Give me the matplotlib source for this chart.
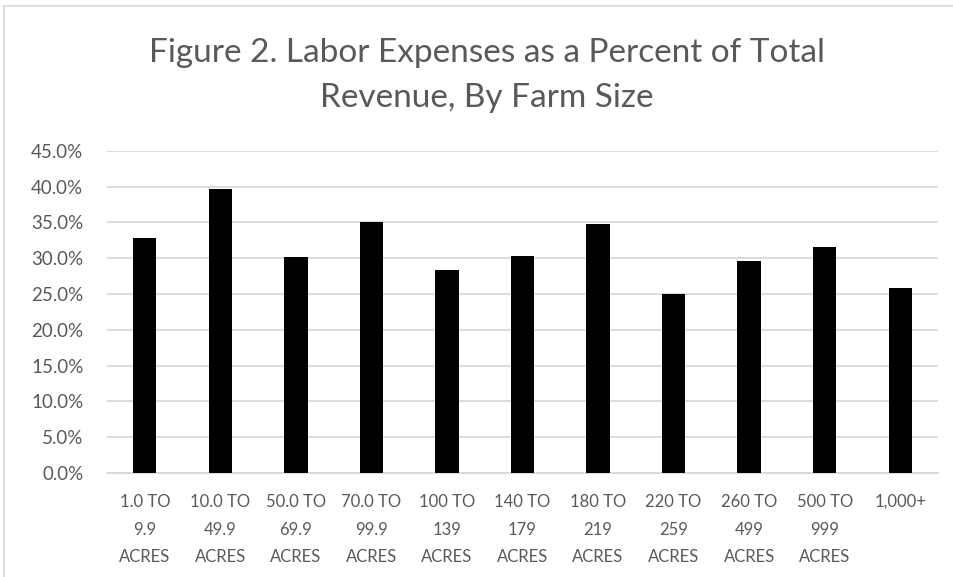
import matplotlib
matplotlib.use("Agg")
import matplotlib.pyplot as plt
from matplotlib.ticker import FuncFormatter, MultipleLocator
from matplotlib.patches import Rectangle

categories = ["1.0 TO\n9.9\nACRES", "10.0 TO\n49.9\nACRES", "50.0 TO\n69.9\nACRES",
              "70.0 TO\n99.9\nACRES", "100 TO\n139\nACRES", "140 TO\n179\nACRES",
              "180 TO\n219\nACRES", "220 TO\n259\nACRES", "260 TO\n499\nACRES",
              "500 TO\n999\nACRES", "1,000+"]
values = [32.8, 39.6, 30.2, 35.0, 28.3, 30.3, 34.7, 25.0, 29.6, 31.5, 25.8]
title_lines = ["Figure 2. Labor Expenses as a Percent of Total", "Revenue, By Farm Size"]

plt.rcParams['font.family'] = ['Lato', 'DejaVu Sans']
txt = '#595959'
grid = '#d9d9d9'

W, H = 954, 577
fig = plt.figure(figsize=(W/100, H/100), dpi=100)
ax = fig.add_axes([107/W, 1-473/H, (938-107)/W, (473-150.7)/H])

x = list(range(len(categories)))
ax.bar(x, values, width=0.31, color='black', zorder=3)
ax.set_xlim(-0.5, len(categories) - 0.5)
ax.set_ylim(0, 45)
ax.yaxis.set_major_locator(MultipleLocator(5))
ax.yaxis.set_major_formatter(FuncFormatter(lambda v, p: f"{v:.1f}%"))
ax.set_xticks(x)
ax.set_xticklabels(categories, fontsize=12, color=txt, linespacing=1.9, va='top')
ax.tick_params(axis='x', length=0, pad=15)
ax.tick_params(axis='y', length=0, pad=17, labelsize=13.5, labelcolor=txt)
ax.grid(axis='y', color=grid, linewidth=1.3, zorder=0)
for s in ['left', 'right', 'top']:
    ax.spines[s].set_visible(False)
ax.spines['bottom'].set_color(grid)
ax.spines['bottom'].set_linewidth(1.3)

for i, line in enumerate(title_lines):
    fig.text(487/W, 1 - (61.7 + 45*i)/H, line, ha='center', va='baseline',
             fontsize=24, color=txt)

fig.patches.append(Rectangle((4/W, -0.1), 1.2, 1 - 6/H + 0.1, transform=fig.transFigure,
                             fill=False, edgecolor=grid, linewidth=1.2))

fig.savefig("out.png", dpi=100)
